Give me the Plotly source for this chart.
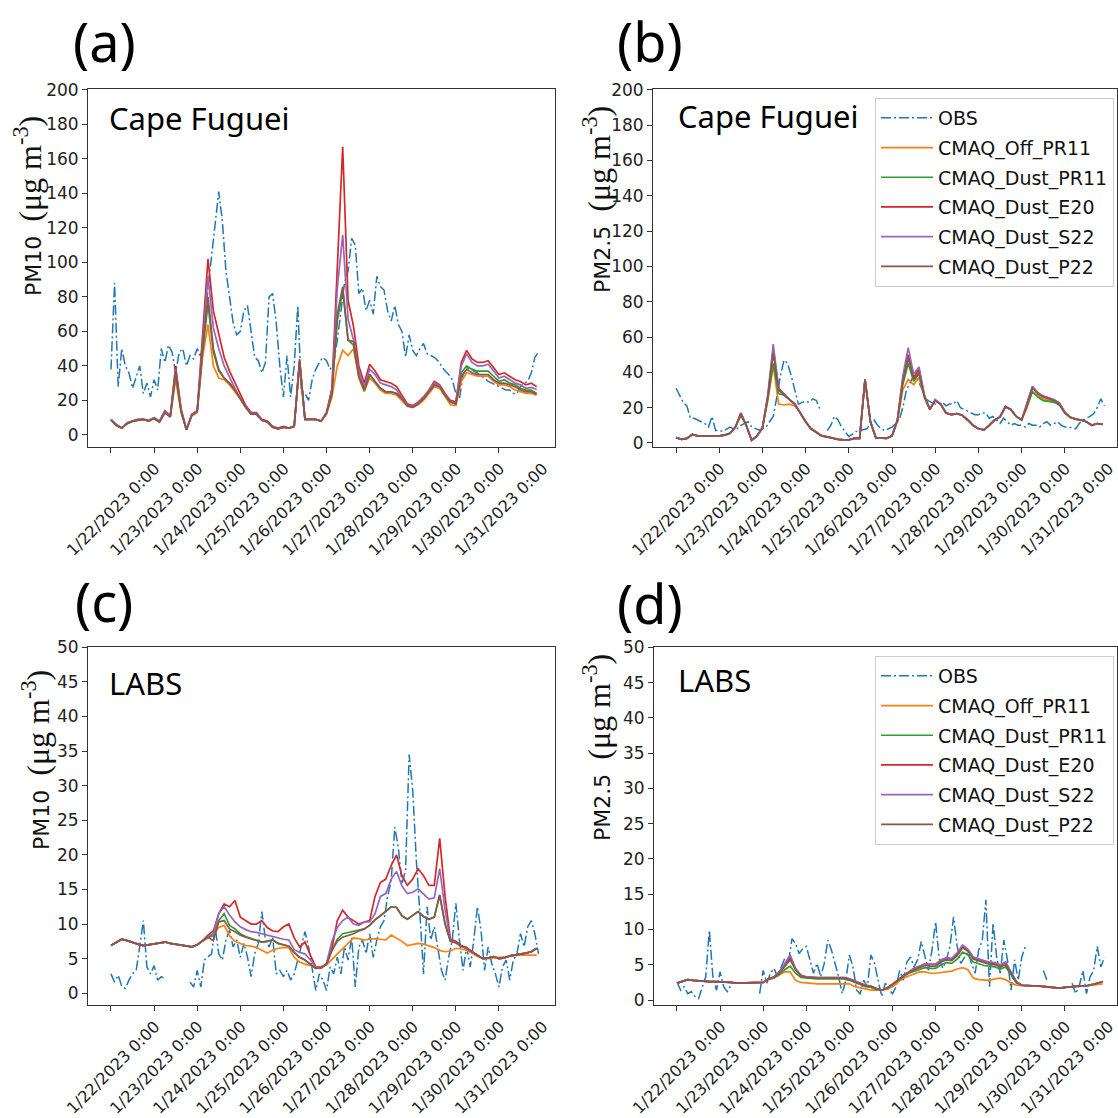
import pandas as pd
import plotly.graph_objects as go

W = H = 1118
BASE = pd.Timestamp("2023-01-22 00:00")
OBS_HOURS = list(range(0, 240, 2))     # hours after 1/22 0:00 (OBS read every 2 h)
MODEL_HOURS = list(range(0, 240, 3))   # hours after 1/22 0:00 (models read every 3 h)
TICK_LABELS = ["1/22/2023 0:00", "1/23/2023 0:00", "1/24/2023 0:00", "1/25/2023 0:00",
               "1/26/2023 0:00", "1/27/2023 0:00", "1/28/2023 0:00", "1/29/2023 0:00",
               "1/30/2023 0:00", "1/31/2023 0:00"]
SERIES = ["OBS", "CMAQ_Off_PR11", "CMAQ_Dust_PR11", "CMAQ_Dust_E20", "CMAQ_Dust_S22", "CMAQ_Dust_P22"]
COLORS = ["#1f77b4", "#ff7f0e", "#2ca02c", "#d62728", "#9467bd", "#8c564b"]

# ---------------- (a) Cape Fuguei PM10 ----------------
A_OBS = [38, 88, 28, 50, 40, 36, 27, 33, 40, 24,
         30, 22, 32, 26, 50, 42, 52, 48, 36, 48,
         50, 40, 46, 44, 50, 45, 60, 85, 105, 125,
         141, 124, 95, 80, 65, 58, 60, 72, 75, 60,
         45, 43, 36, 42, 80, 82, 65, 40, 22, 46,
         22, 40, 75, 25, 24, 20, 32, 38, 42, 45,
         43, 38, 42, 55, 70, 88, 95, 114, 110, 82,
         85, 72, 78, 70, 92, 86, 84, 72, 66, 75,
         64, 60, 45, 58, 49, 46, 50, 53, 47, 46,
         45, 43, 40, 37, 35, 32, 24, 21, 35, 38,
         39, 37, 36, 34, 33, 31, 30, 29, 28, 27,
         26, 26, 24, 24, 28, 30, 31, 36, 45, 48]
A_OFF = [8.5, 5.5, 4, 6.5, 8, 8.5, 9, 8, 9.5, 7.5,
         13, 10.5, 32, 13, 3, 11, 13, 45, 64, 40,
         33, 32, 29, 25, 21, 16, 12, 12, 8.5, 7.5,
         4.5, 3.5, 4.5, 4, 5, 40, 9, 9, 9, 8,
         12, 22, 40, 49, 46, 50, 33, 25, 33, 30,
         26, 24, 24, 23, 20, 16.5, 16, 17.5, 20, 24,
         28, 27, 22, 17.5, 17, 31, 36, 35, 34, 34,
         34, 31, 29, 29, 28, 26, 25, 24, 24, 23]
A_PR11 = [8.5, 5.5, 4, 6.5, 8, 8.5, 9, 8, 9.5, 7.5,
          13, 10.5, 35, 14, 3, 11.5, 13.5, 48, 76, 48,
          37, 33, 30, 26, 21, 16, 12, 12, 8.5, 7.5,
          4.5, 3.5, 4.5, 4, 5, 42, 9, 9, 9, 8,
          12.5, 24, 66, 84, 55, 52, 34, 26, 35, 31,
          27, 25, 25, 24, 21, 17, 16, 18, 21, 25,
          29, 28, 23, 19, 18, 36, 40, 38, 37, 37,
          37, 34, 31, 32, 30, 29, 27, 26, 26, 24]
A_E20 = [9, 6, 4, 7, 8, 9, 9, 8.5, 10, 8,
         14, 11, 40, 15, 3, 12, 14, 60, 102, 72,
         58, 45, 37, 30, 23, 17, 13, 13, 9, 8,
         5, 4, 5, 4, 5, 44, 9, 9, 9, 8,
         13, 27, 100, 167, 78, 63, 40, 30, 41, 37,
         32, 31, 30, 28, 23, 18, 17, 19, 22, 26,
         31, 29, 24, 20, 19, 42, 49, 44, 42, 42,
         43, 39, 35, 36, 34, 32, 31, 29, 30, 28]
A_S22 = [9, 6, 4, 7, 8, 9, 9, 8.5, 10, 8,
         14, 11, 38, 15, 3, 12, 14, 55, 92, 62,
         50, 40, 33, 27, 21, 16, 12.5, 12.5, 8.5, 7.5,
         4.5, 3.5, 4.5, 4, 5, 43, 9, 9, 9, 8,
         13, 26, 85, 116, 67, 55, 37, 28, 38, 35,
         30, 29, 28, 26, 22, 17.5, 16.5, 18.5, 21.5, 25.5,
         30, 28.5, 23.5, 19.5, 18.5, 40, 47, 42, 40, 40,
         41, 37, 33, 34, 32, 30, 29, 27, 27.5, 26.5]
A_P22 = [8.5, 5.5, 4, 6.5, 8, 8.5, 9, 8, 9.5, 7.5,
         13, 10.5, 37, 14, 3, 11.5, 13.5, 50, 80, 50,
         38, 33, 30, 26, 21, 16, 12, 12, 8.5, 7.5,
         4.5, 3.5, 4.5, 4, 5, 43, 9, 9, 9, 8,
         12.5, 24, 70, 86, 55, 54, 34, 26, 35, 31,
         27, 25, 25, 24, 21, 17, 16, 18, 21, 25,
         29, 28, 23, 19, 18, 34, 38, 36, 35, 35,
         35, 32, 30, 30, 29, 28, 26, 25, 25, 23.5]

# ---------------- (b) Cape Fuguei PM2.5 ----------------
B_OBS = [31, 27, 23, 21, 14, 14, 13, 12, 11, 9,
         15, 7, 7, 6.5, 8, 9, 8, 8, 10, 11,
         12, 9, 8, 7.4, 8, 9, 12, 15, 26, 38,
         47, 45, 38, 30, 22, 23, 23.5, 23, 25, 24,
         19, None, 7, 10, 15, 13, 9, 6, 3.6, 5,
         6.4, 7, 7.5, 8, 11, 13, 10, 8, 7, 8,
         9, 11, 13, 20, 30, 34, 38, 36, 32, 27,
         24, 23, 22, 22, 23, 21, 22, 22, 24, 20,
         19, 18, 17, 16, 16, 17, 17, 14, 15, 13,
         11, 14, 12, 10, 11, 10, 10, 9, 11, 10,
         10, 9, 11, 12, 10, 11, 12, 10, 9, 9,
         8.5, 8, 11, 13, 14, 15, 16.5, 20, 25, 21]
B_OFF = [3, 2, 2.6, 4.8, 4, 4, 3.6, 3.8, 4, 4.4,
         5.5, 9, 15.5, 10, 1.5, 4, 8.5, 24, 44, 22,
         21.5, 22, 21, 17, 12, 8, 6, 4, 3.4, 2.6,
         2, 1.7, 1.7, 2.6, 2.6, 35, 12, 3, 2.6, 2.6,
         4, 12, 30, 36, 33, 37, 26, 19, 24, 22,
         17, 16, 16.6, 15.7, 13, 10, 8, 7.4, 10, 13,
         14.7, 20.5, 19, 15, 13, 20, 29, 27, 25, 24,
         23.5, 22, 17, 14.5, 13.5, 13, 12, 10, 11, 10.5]
B_PR11 = [3, 2, 2.6, 4.8, 4, 4, 3.6, 3.8, 4, 4.4,
          5.5, 9, 16, 10, 1.5, 4, 8.5, 25, 45, 28,
          27, 24.5, 22, 17, 12, 8, 6, 4, 3.4, 2.6,
          2, 1.7, 1.7, 2.6, 2.6, 36, 12, 3, 2.6, 2.6,
          4, 13, 33, 45, 35, 39, 26, 19, 24, 22,
          17, 16, 16.6, 15.7, 13, 10, 8, 7.4, 10, 13,
          14.7, 20.5, 19, 15, 13, 20.5, 29, 26, 24, 23.5,
          23, 21.5, 17, 14.5, 13.5, 13, 12, 10, 11, 10.5]
B_E20 = [3, 2, 2.6, 4.8, 4, 4, 3.6, 3.8, 4, 4.4,
         5.5, 9, 17, 10, 1.5, 4, 8.5, 27, 53, 31,
         27.5, 24.5, 22, 17, 12, 8, 6, 4, 3.4, 2.6,
         2, 1.7, 1.7, 2.6, 2.6, 36, 12, 3, 2.6, 2.6,
         4, 13, 36, 50, 37, 42, 27, 19, 24.5, 22,
         17, 16, 16.6, 15.7, 13, 10, 8, 7.4, 10, 13,
         14.7, 20.5, 19, 15, 13, 22, 32, 28.5, 26.5, 25.5,
         24.5, 22.5, 17.5, 14.5, 13.5, 13, 12, 10, 11, 10.5]
B_S22 = [3, 2, 2.6, 4.8, 4, 4, 3.6, 3.8, 4, 4.4,
         5.5, 9, 17, 10, 1.5, 4, 8.5, 27, 56, 31,
         27.5, 24.5, 22, 17, 12, 8, 6, 4, 3.4, 2.6,
         2, 1.7, 1.7, 2.6, 2.6, 36, 12, 3, 2.6, 2.6,
         4, 13, 38, 54, 39, 43, 27, 19, 24.5, 22,
         17, 16, 16.6, 15.7, 13, 10, 8, 7.4, 10, 13,
         14.7, 20.5, 19, 15, 13, 22, 32, 28.5, 26.5, 25.5,
         24.5, 22.5, 17.5, 14.5, 13.5, 13, 12, 10, 11, 10.5]
B_P22 = [3, 2, 2.6, 4.8, 4, 4, 3.6, 3.8, 4, 4.4,
         5.5, 9, 16.5, 10, 1.5, 4, 8.5, 26, 51, 30,
         27.5, 24.5, 22, 17, 12, 8, 6, 4, 3.4, 2.6,
         2, 1.7, 1.7, 2.6, 2.6, 36, 12, 3, 2.6, 2.6,
         4, 13, 35, 48, 36, 40, 26, 19, 24, 22,
         17, 16, 16.6, 15.7, 13, 10, 8, 7.4, 10, 13,
         14.7, 20.5, 19, 15, 13, 21, 31, 28, 26, 25,
         24, 22, 17, 14.5, 13.5, 13, 12, 10, 11, 10.5]

# ---------------- (c) LABS PM10 ----------------
C_OBS = [2.8, 1.6, 2.6, 1.0, 0.7, 1.9, 2.8, 3.3, 6.7, 10.5,
         3.8, 2.8, 4.0, 1.9, 2.4, 2.1, None, None, None, None,
         None, None, 1.6, 0.9, 3.3, 0.9, 4.8, 5.2, 5.7, 9.6,
         5.7, 4.8, 7.7, 9.1, 6.7, 7.7, 5.2, 7.2, 5.2, 2.4,
         5.7, 7.2, 11.8, 7.7, 6.7, 8.1, 2.8, 3.3, 2.4, 3.3,
         1.9, 2.8, 4.8, 6.7, 8.9, 6.7, 3.3, 0.4, 2.8, 1.9,
         0.4, 3.8, 2.8, 5.2, 2.8, 6.7, 4.8, 8.1, 0.9, 6.7,
         7.7, 5.7, 8.6, 5.2, 7.7, 9.6, 10.5, 14.0, 16.3, 24.0,
         21.0, 15.8, 17.8, 34.5, 29.3, 19.2, 11.5, 2.8, 12.5, 7.7,
         9.6, 6.7, 3.3, 1.9, 5.2, 7.7, 13.0, 7.7, 3.3, 6.7,
         3.8, 7.7, 12.5, 9.1, 3.3, 6.7, 4.3, 2.8, 0.9, 3.8,
         4.8, 1.9, 4.8, 5.7, 8.6, 6.7, 9.6, 10.5, 8.6, 5.7]
C_OFF = [6.9, 7.4, 7.8, 7.6, 7.3, 7.1, 6.9, 7.0, 7.2, 7.3,
         7.4, 7.2, 7.1, 6.9, 6.8, 6.7, 7.0, 7.6, 8.0, 8.5,
         9.5, 9.8, 8.3, 7.5, 7.2, 6.9, 6.8, 6.6, 6.2, 5.8,
         6.2, 6.5, 6.6, 6.6, 5.2, 4.5, 4.2, 4.0, 3.8, 3.9,
         4.1, 4.9, 5.7, 6.5, 7.2, 8.0, 7.9, 7.7, 7.8, 7.9,
         7.8, 7.7, 8.4, 8.0, 7.5, 6.9, 7.0, 7.2, 7.1, 6.9,
         6.6, 6.2, 6.0, 6.1, 6.5, 6.4, 6.2, 5.8, 5.3, 5.1,
         5.0, 5.1, 5.2, 5.3, 5.3, 5.4, 5.5, 5.5, 5.5, 5.5]
C_PR11 = [6.9, 7.4, 7.8, 7.6, 7.3, 7.1, 6.9, 7.0, 7.2, 7.3,
          7.4, 7.2, 7.1, 6.9, 6.8, 6.7, 7.0, 7.6, 8.1, 8.3,
          10.5, 11.5, 9.8, 9.3, 8.6, 8.2, 7.9, 7.7, 7.4, 7.5,
          7.7, 7.2, 7.0, 6.8, 5.9, 5.2, 4.8, 4.2, 3.6, 3.7,
          4.2, 6.2, 7.8, 8.6, 8.8, 8.9, 9.2, 9.3, 9.8, 10.6,
          11.2, 11.8, 12.5, 12.4, 11.2, 10.7, 11.2, 11.8, 11.1, 10.7,
          11.0, 14.2, 10.0, 7.5, 7.3, 6.8, 6.5, 6.0, 5.5, 5.0,
          5.1, 5.3, 5.0, 5.1, 5.4, 5.5, 5.7, 5.8, 6.0, 6.5]
C_E20 = [6.9, 7.4, 7.8, 7.6, 7.3, 7.1, 6.9, 7.0, 7.2, 7.3,
         7.4, 7.2, 7.1, 6.9, 6.8, 6.7, 7.0, 7.6, 8.4, 9.0,
         11.5, 12.9, 12.5, 13.4, 11.0, 10.5, 10.0, 10.0, 10.5, 9.5,
         9.0, 8.9, 9.6, 10.0, 8.0, 6.7, 7.4, 5.5, 3.8, 3.6,
         4.3, 6.5, 10.5, 12.0, 11.0, 10.5, 10.0, 10.3, 10.5, 14.0,
         16.0, 16.5, 18.5, 20.0, 17.0, 15.6, 16.5, 18.0, 17.0, 15.6,
         15.6, 22.4, 14.0, 7.8, 7.5, 6.9, 6.6, 6.0, 5.5, 5.0,
         5.1, 5.3, 5.0, 5.1, 5.4, 5.5, 5.7, 5.8, 6.0, 6.5]
C_S22 = [6.9, 7.4, 7.8, 7.6, 7.3, 7.1, 6.9, 7.0, 7.2, 7.3,
         7.4, 7.2, 7.1, 6.9, 6.8, 6.7, 7.0, 7.6, 8.2, 8.6,
         11.5, 12.5, 11.3, 10.3, 9.6, 9.2, 8.9, 8.8, 8.6, 8.4,
         8.1, 7.9, 7.8, 7.7, 6.3, 5.9, 5.7, 4.8, 3.8, 3.7,
         4.3, 7.5, 9.5, 10.5, 11.0, 10.0, 9.8, 10.3, 10.3, 11.5,
         14.0, 14.4, 16.5, 17.6, 15.5, 14.4, 14.6, 15.1, 14.4, 13.6,
         13.8, 18.0, 12.0, 7.6, 7.3, 6.8, 6.5, 6.0, 5.5, 5.0,
         5.1, 5.3, 5.0, 5.1, 5.4, 5.5, 5.7, 5.8, 6.0, 6.5]
C_P22 = [6.9, 7.4, 7.8, 7.6, 7.3, 7.1, 6.9, 7.0, 7.2, 7.3,
         7.4, 7.2, 7.1, 6.9, 6.8, 6.7, 7.0, 7.6, 8.1, 7.6,
         10.3, 10.5, 9.3, 8.9, 8.4, 8.1, 7.9, 7.7, 7.4, 7.5,
         7.7, 7.2, 7.0, 6.8, 5.9, 5.2, 4.8, 4.2, 3.6, 3.7,
         4.2, 6.2, 7.5, 8.1, 8.3, 8.6, 9.0, 9.3, 9.8, 10.6,
         11.2, 11.8, 12.5, 12.4, 11.2, 10.7, 11.2, 11.8, 11.1, 10.7,
         11.0, 14.2, 10.0, 7.5, 7.3, 6.8, 6.5, 6.0, 5.5, 5.0,
         5.1, 5.3, 5.0, 5.1, 5.4, 5.5, 5.7, 5.8, 6.0, 6.5]

# ---------------- (d) LABS PM2.5 ----------------
D_OBS = [2.6, 1.4, 1.9, 0.9, 1.2, 0.5, 0.2, 1.9, 3.3, 9.9,
         3.3, 1.4, 4.0, 1.9, 1.2, 2.1, None, None, None, None,
         None, None, None, 0.9, 4.2, 2.4, 3.8, 4.5, 3.3, 4.7,
         5.9, 5.2, 8.7, 8.0, 6.6, 7.3, 7.6, 5.7, 3.8, 5.2,
         3.3, 5.2, 8.5, 7.1, 5.2, 3.3, 0.9, 2.8, 6.4, 4.7,
         1.4, 0.9, 2.8, 1.9, 6.4, 5.2, 2.8, 0.5, 2.4, 1.5,
         0.9, 1.9, 4.2, 2.8, 5.4, 6.1, 4.7, 5.7, 8.3, 6.1,
         4.2, 7.1, 11.1, 5.9, 4.5, 5.7, 7.6, 11.8, 7.6, 5.2,
         6.1, 6.8, 5.2, 3.8, 7.1, 8.5, 14.2, 1.9, 10.9, 6.1,
         3.8, 8.5, 5.7, 1.4, 5.7, 2.8, 6.1, 7.6, None, None,
         None, None, 4.2, 2.8, None, None, None, None, None, None,
         2.4, 0.9, 2.0, 4.2, 0.9, 3.3, 4.2, 7.6, 4.7, 6.1]
D_OFF = [2.4, 2.6, 2.9, 2.8, 2.7, 2.7, 2.6, 2.6, 2.6, 2.5,
         2.5, 2.4, 2.4, 2.4, 2.4, 2.4, 2.5, 2.9, 3.1, 3.6,
         4.0, 4.0, 2.8, 2.5, 2.4, 2.4, 2.3, 2.3, 2.3, 2.3,
         2.4, 2.3, 2.3, 1.9, 1.7, 1.5, 1.4, 1.4, 1.4, 1.5,
         1.9, 2.5, 3.1, 3.4, 3.7, 4.0, 4.0, 3.8, 3.8, 3.9,
         4.0, 4.1, 4.4, 4.6, 4.3, 3.1, 2.9, 2.8, 2.8, 3.0,
         3.1, 2.9, 2.4, 2.1, 2.0, 2.0, 2.0, 2.0, 1.9, 1.8,
         1.7, 1.7, 1.8, 1.9, 1.9, 2.0, 2.0, 2.1, 2.2, 2.3]
D_PR11 = [2.4, 2.6, 2.9, 2.8, 2.7, 2.7, 2.6, 2.6, 2.6, 2.5,
          2.5, 2.4, 2.4, 2.4, 2.4, 2.4, 2.5, 3.0, 3.2, 3.6,
          4.3, 4.8, 3.8, 3.2, 3.1, 3.0, 3.0, 3.0, 3.0, 2.9,
          3.0, 3.0, 2.8, 2.5, 2.1, 1.9, 1.8, 1.5, 1.4, 1.7,
          2.2, 2.8, 3.3, 3.8, 4.1, 4.4, 4.6, 4.5, 4.5, 5.0,
          5.3, 5.2, 5.8, 6.8, 6.4, 5.4, 5.1, 4.9, 4.8, 4.7,
          4.4, 4.7, 3.6, 2.4, 2.1, 2.0, 2.0, 2.0, 1.9, 1.8,
          1.7, 1.7, 1.8, 1.9, 1.9, 2.0, 2.0, 2.2, 2.4, 2.6]
D_E20 = [2.4, 2.6, 2.9, 2.8, 2.7, 2.7, 2.6, 2.6, 2.6, 2.5,
         2.5, 2.4, 2.4, 2.4, 2.4, 2.4, 2.5, 3.0, 3.3, 4.0,
         5.0, 6.1, 4.4, 3.5, 3.3, 3.2, 3.2, 3.2, 3.2, 3.1,
         3.2, 3.2, 3.0, 2.7, 2.3, 2.1, 2.0, 1.6, 1.4, 1.7,
         2.2, 2.9, 3.5, 4.0, 4.5, 4.8, 5.1, 5.1, 5.1, 5.6,
         5.9, 5.8, 6.5, 7.6, 7.1, 6.0, 5.7, 5.5, 5.3, 5.2,
         4.9, 5.3, 3.9, 2.6, 2.1, 2.0, 2.0, 2.0, 1.9, 1.8,
         1.7, 1.7, 1.8, 1.9, 1.9, 2.0, 2.0, 2.2, 2.4, 2.6]
D_S22 = [2.4, 2.6, 2.9, 2.8, 2.7, 2.7, 2.6, 2.6, 2.6, 2.5,
         2.5, 2.4, 2.4, 2.4, 2.4, 2.4, 2.5, 3.0, 3.3, 4.0,
         5.2, 6.4, 4.5, 3.5, 3.3, 3.2, 3.2, 3.2, 3.2, 3.1,
         3.2, 3.2, 3.0, 2.7, 2.3, 2.1, 2.0, 1.6, 1.4, 1.7,
         2.2, 2.9, 3.5, 4.0, 4.5, 4.8, 5.1, 5.1, 5.1, 5.7,
         6.0, 5.9, 6.7, 7.8, 7.2, 6.1, 5.8, 5.6, 5.4, 5.3,
         5.0, 5.4, 4.0, 2.6, 2.1, 2.0, 2.0, 2.0, 1.9, 1.8,
         1.7, 1.7, 1.8, 1.9, 1.9, 2.0, 2.0, 2.2, 2.4, 2.6]
D_P22 = [2.4, 2.6, 2.9, 2.8, 2.7, 2.7, 2.6, 2.6, 2.6, 2.5,
         2.5, 2.4, 2.4, 2.4, 2.4, 2.4, 2.5, 3.0, 3.2, 3.8,
         4.8, 5.7, 4.3, 3.4, 3.2, 3.1, 3.1, 3.1, 3.1, 3.0,
         3.1, 3.1, 2.9, 2.6, 2.2, 2.0, 1.9, 1.6, 1.4, 1.7,
         2.2, 2.8, 3.4, 3.9, 4.3, 4.6, 4.9, 4.8, 4.8, 5.4,
         5.7, 5.6, 6.3, 7.4, 6.9, 5.8, 5.5, 5.3, 5.1, 5.0,
         4.7, 5.0, 3.8, 2.5, 2.1, 2.0, 2.0, 2.0, 1.9, 1.8,
         1.7, 1.7, 1.8, 1.9, 1.9, 2.0, 2.0, 2.2, 2.4, 2.6]

# ---------------- layout helpers ----------------
def fx(p):
    return p / W


def fy(p):
    return 1 - p / H


def t(h):
    return BASE + pd.Timedelta(hours=h)


obs_x = [t(h) for h in OBS_HOURS]
mod_x = [t(h) for h in MODEL_HOURS]
tick_vals = [t(24 * k) for k in range(len(TICK_LABELS))]

panels = [
    dict(n=1, data=[A_OBS, A_OFF, A_PR11, A_E20, A_S22, A_P22], px=(88, 555, 89, 447),
         hr=(-12.8, 247.2), yr=(-7, 200.5), dtick=20, legend=None),
    dict(n=2, data=[B_OBS, B_OFF, B_PR11, B_E20, B_S22, B_P22], px=(653, 1117, 89, 447),
         hr=(-12.8, 245.0), yr=(-2.3, 200.5), dtick=20, legend="legend"),
    dict(n=3, data=[C_OBS, C_OFF, C_PR11, C_E20, C_S22, C_P22], px=(88, 555, 647, 1005),
         hr=(-12.8, 247.2), yr=(-1.7, 50.05), dtick=5, legend=None),
    dict(n=4, data=[D_OBS, D_OFF, D_PR11, D_E20, D_S22, D_P22], px=(654, 1117, 647, 1005),
         hr=(-12.8, 245.0), yr=(-0.7, 50.05), dtick=5, legend="legend2"),
]

fig = go.Figure()
layout = {}
for p in panels:
    n = p["n"]
    xa = "x" if n == 1 else f"x{n}"
    ya = "y" if n == 1 else f"y{n}"
    for i, (name, color, vals) in enumerate(zip(SERIES, COLORS, p["data"])):
        is_obs = i == 0
        tr = go.Scatter(
            x=obs_x if is_obs else mod_x, y=vals, name=name, mode="lines",
            line=dict(color=color, width=1.5 if is_obs else 1.7,
                      dash="10px,3px,2px,3px" if is_obs else "solid"),
            connectgaps=False, xaxis=xa, yaxis=ya,
            showlegend=p["legend"] is not None, legendgroup=f"{n}_{i}",
        )
        if p["legend"] is not None:
            tr.legend = p["legend"]
        fig.add_trace(tr)
    l, r, tp, b = p["px"]
    axis_common = dict(showline=True, mirror=True, linecolor="#333", linewidth=1,
                       ticks="outside", ticklen=5, tickwidth=1, tickcolor="#333",
                       showgrid=False, zeroline=False, automargin=False)
    layout["xaxis" if n == 1 else f"xaxis{n}"] = dict(
        domain=[fx(l), fx(r)], anchor=ya, type="date",
        range=[t(p["hr"][0]), t(p["hr"][1])],
        tickmode="array", tickvals=tick_vals, ticktext=TICK_LABELS, tickangle=-45,
        ticklabelshift=44, ticklabelstandoff=0,
        tickfont=dict(family="DejaVu Sans", size=16, color="#222"), **axis_common)
    layout["yaxis" if n == 1 else f"yaxis{n}"] = dict(
        domain=[fy(b), fy(tp)], anchor=xa, range=list(p["yr"]),
        tick0=0, dtick=p["dtick"],
        tickfont=dict(family="DejaVu Sans", size=17, color="#222"), **axis_common)

legend_common = dict(xanchor="left", yanchor="top", bgcolor="rgba(255,255,255,0.85)",
                     bordercolor="#cccccc", borderwidth=1, tracegroupgap=2,
                     itemwidth=52,
                     font=dict(family="DejaVu Sans", size=19, color="#111"),
                     traceorder="grouped")
layout["legend"] = dict(x=fx(875), y=fy(98), **legend_common)
layout["legend2"] = dict(x=fx(875), y=fy(656), **legend_common)

serif = "font-family:Liberation Serif;font-size:32px"
unit = f"<span style='{serif}'>(μg m<sup>-3</sup>)</span>"
annotations = []
for txt, x, y in [("(a)", 104, 41), ("(b)", 650, 41), ("(c)", 104, 601), ("(d)", 650, 603)]:
    annotations.append(dict(text=txt, x=fx(x), y=fy(y), xref="paper", yref="paper",
                            showarrow=False, xanchor="center", yanchor="middle",
                            font=dict(family="Noto Sans", size=54, color="#000")))
for txt, x, y in [("Cape Fuguei", 107, 118), ("Cape Fuguei", 676, 116),
                  ("LABS", 107, 683), ("LABS", 676, 680)]:
    annotations.append(dict(text=txt, x=fx(x), y=fy(y), xref="paper", yref="paper",
                            showarrow=False, xanchor="left", yanchor="middle",
                            font=dict(family="Noto Sans", size=31, color="#000")))
for txt, x, y in [("PM10  " + unit, 28, 206), ("PM2.5  " + unit, 597, 200),
                  ("PM10  " + unit, 36, 760), ("PM2.5  " + unit, 597, 748)]:
    annotations.append(dict(text=txt, x=fx(x), y=fy(y), xref="paper", yref="paper",
                            showarrow=False, xanchor="center", yanchor="middle",
                            textangle=-90,
                            font=dict(family="DejaVu Sans", size=22, color="#111")))

fig.update_layout(width=W, height=H, margin=dict(l=0, r=0, t=0, b=0),
                  paper_bgcolor="white", plot_bgcolor="white",
                  annotations=annotations, **layout)
fig.write_html("out.html", config={"displayModeBar": False},
               post_script="document.body.style.margin='0';")
